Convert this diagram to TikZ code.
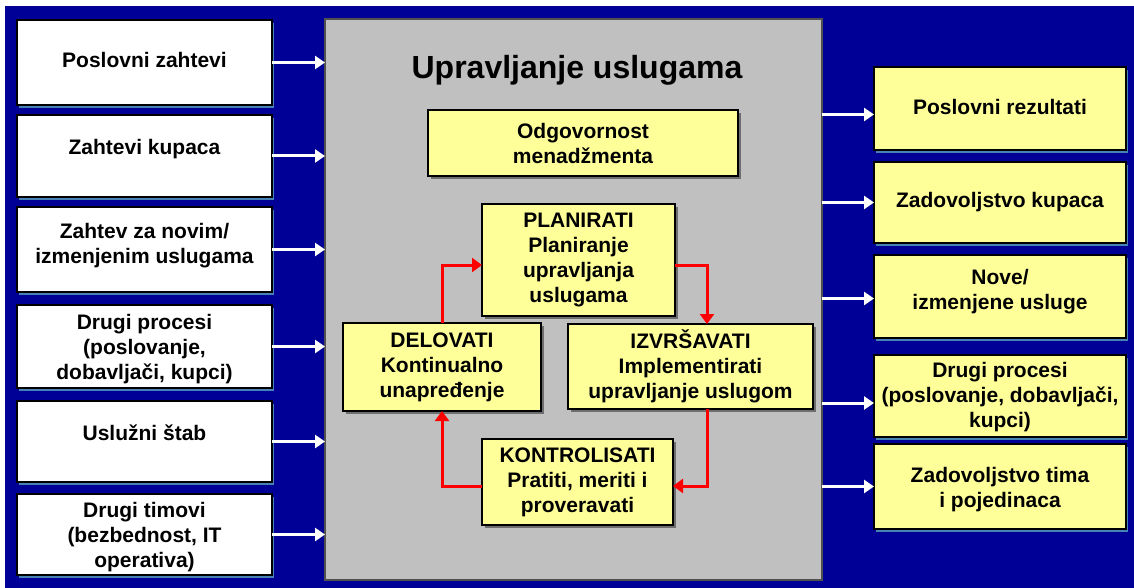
\documentclass[tikz,border=0pt]{standalone}
\usepackage{fontspec}
\setmainfont{Liberation Sans}
\usetikzlibrary{arrows.meta,shadows}
\definecolor{navy}{RGB}{0,0,150}
\definecolor{panelgray}{RGB}{192,192,192}
\definecolor{note}{RGB}{255,255,153}
\definecolor{edgeshade}{RGB}{70,130,180}
\definecolor{innershade}{RGB}{110,110,110}
\begin{document}
\begin{tikzpicture}[x=1pt,y=-1pt,
  every node/.style={inner sep=0pt, outer sep=0pt},
  lbl/.style={font=\bfseries\fontsize{21}{25}\selectfont, align=center},
  sidebox/.style 2 args={draw=black, line width=1.6pt, minimum width=#1, minimum height=#2,
    general shadow={fill=edgeshade, shadow xshift=2pt, shadow yshift=-3pt}},
  inbox/.style 2 args={draw=black, line width=1.6pt, fill=note, minimum width=#1, minimum height=#2,
    font=\bfseries\fontsize{21}{25}\selectfont, align=center,
    general shadow={fill=innershade, shadow xshift=3pt, shadow yshift=-3pt}},
  whitearrow/.style={draw=white, line width=3pt, -{Triangle[length=10pt,width=13pt]}},
  redarrow/.style={draw=red, line width=3pt, -{Triangle[length=10pt,width=14pt]}}]

% page and dark backdrop
\fill[white] (0,0) rectangle (1134,588);
\useasboundingbox (0,0) rectangle (1134,588);
\fill[navy] (5,6) rectangle (1134,588);

% central panel
\node[draw={rgb,255:red,80;green,80;blue,80}, line width=1.5pt, fill=panelgray,
      minimum width=497, minimum height=561] (panel) at (573.5,299.5) {};
\node[font=\bfseries\fontsize{32}{38}\selectfont] (title) at (577,70) {Upravljanje uslugama};

% inputs
\node[sidebox={255}{85}, fill=white] (L1) at (144.5,62.5) {};
\node[lbl] (L1t) at (144.5,59.5) {Poslovni zahtevi};
\node[sidebox={255}{82}, fill=white] (L2) at (144.5,156) {};
\node[lbl] (L2t) at (144.5,149.5) {Zahtevi kupaca};
\node[sidebox={255}{85}, fill=white] (L3) at (144.5,249.5) {};
\node[lbl] (L3t) at (144.5,246) {Zahtev za novim/\\izmenjenim uslugama};
\node[sidebox={255}{83}, fill=white] (L4) at (144.5,346.5) {};
\node[lbl] (L4t) at (144.5,349) {Drugi procesi\\(poslovanje,\\dobavljači, kupci)};
\node[sidebox={255}{81}, fill=white] (L5) at (144.5,441.5) {};
\node[lbl] (L5t) at (144.5,432.5) {Uslužni štab};
\node[sidebox={255}{81}, fill=white] (L6) at (144.5,534.5) {};
\node[lbl] (L6t) at (144.5,537) {Drugi timovi\\(bezbednost, IT\\operativa)};

% outputs
\node[sidebox={252}{83}, fill=note] (R1) at (1000,108.5) {};
\node[lbl] (R1t) at (1000,107) {Poslovni rezultati};
\node[sidebox={252}{81}, fill=note] (R2) at (1000,202.5) {};
\node[lbl] (R2t) at (1000,202) {Zadovoljstvo kupaca};
\node[sidebox={252}{83}, fill=note] (R3) at (1000,296.5) {};
\node[lbl] (R3t) at (1000,292) {Nove/\\izmenjene usluge};
\node[sidebox={252}{82}, fill=note] (R4) at (1000,396) {};
\node[lbl] (R4t) at (1000,397) {Drugi procesi\\(poslovanje, dobavljači,\\kupci)};
\node[sidebox={252}{85}, fill=note] (R5) at (1000,486.5) {};
\node[lbl] (R5t) at (1000,489.5) {Zadovoljstvo tima\\i pojedinaca};

% management cycle
\node[inbox={310}{66}] (mgmt) at (583,143) {Odgovornost\\menadžmenta};
\node[inbox={193}{112}] (plan) at (578.5,260) {PLANIRATI\\Planiranje\\upravljanja\\uslugama};
\node[inbox={198}{88}] (act) at (442,367) {DELOVATI\\Kontinualno\\unapređenje};
\node[inbox={245}{85}] (do) at (690.5,366.5) {IZVRŠAVATI\\Implementirati\\upravljanje uslugom};
\node[inbox={191}{86}] (check) at (577.5,482) {KONTROLISATI\\Pratiti, meriti i\\proveravati};

\draw[redarrow] (act.north) |- ([yshift=-5pt]plan.west);
\draw[redarrow] ([yshift=-5pt]plan.east) -| ([xshift=16.5pt]do.north);
\draw[redarrow] ([xshift=16.5pt]do.south) |- ([yshift=-4pt]check.east);
\draw[redarrow] ([yshift=-4pt]check.west) -| (act.south);

% flows into and out of the panel
\foreach \n in {L1,L2,L3,L4,L5,L6}
  \draw[whitearrow] (\n.east) -- (\n.east -| panel.west);
\draw[whitearrow] ([yshift=-6pt]R1.west -| panel.east) -- ([yshift=-6pt]R1.west);
\draw[whitearrow] (R2.west -| panel.east) -- (R2.west);
\draw[whitearrow] ([yshift=-2pt]R3.west -| panel.east) -- ([yshift=-2pt]R3.west);
\draw[whitearrow] ([yshift=-7pt]R4.west -| panel.east) -- ([yshift=-7pt]R4.west);
\draw[whitearrow] (R5.west -| panel.east) -- (R5.west);
\end{tikzpicture}
\end{document}
